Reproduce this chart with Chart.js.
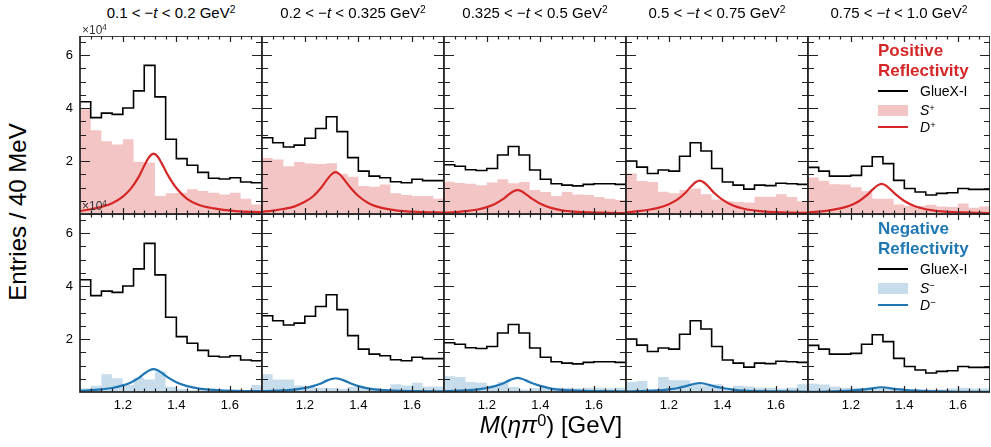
<!DOCTYPE html>
<html>
<head>
<meta charset="utf-8">
<script src="https://cdn.jsdelivr.net/npm/chart.js@4.4.0/dist/chart.umd.min.js"></script>
<style>
  body { margin: 0; background: #fff; }
  #fig { position: relative; width: 991px; height: 447px; overflow: hidden; font-family: "Liberation Sans", Arial, sans-serif; }
  #fig canvas { position: absolute; }
  .txt { position: absolute; white-space: nowrap; color: #000; line-height: 1; }
  .sup { position: relative; top: -0.45em; font-size: 0.68em; }
  .hline { position: absolute; width: 30px; }
</style>
</head>
<body>
<div id="fig"></div>
<script>
// bin edges of M(eta pi0) in GeV, 40 MeV bins
const binEdges = [1.04, 1.08, 1.12, 1.16, 1.20, 1.24, 1.28, 1.32, 1.36, 1.40, 1.44, 1.48, 1.52, 1.56, 1.60, 1.64, 1.68, 1.72];
const xTickLabels = ['1.2', '1.4', '1.6'];
const yTickLabels = ['2', '4', '6'];
const tLow = ['0.1', '0.2', '0.325', '0.5', '0.75'];
const tHigh = ['0.2', '0.325', '0.5', '0.75', '1.0'];

// GlueX-I data, entries x 10^4 per bin
const gluex1 = [4.24, 3.64, 3.81, 3.76, 4.00, 4.65, 5.61, 4.42, 2.82, 2.09, 1.84, 1.57, 1.35, 1.32, 1.37, 1.21, 1.18];
const gluex2 = [2.88, 2.69, 2.53, 2.60, 2.86, 3.23, 3.67, 3.11, 2.13, 1.62, 1.43, 1.37, 1.22, 1.18, 1.31, 1.26, 1.26];
const gluex3 = [1.86, 1.80, 1.67, 1.64, 1.72, 2.23, 2.55, 2.23, 1.66, 1.31, 1.14, 1.09, 1.06, 1.12, 1.14, 1.14, 1.12];
const gluex4 = [2.00, 1.77, 1.53, 1.66, 1.62, 2.18, 2.69, 2.38, 1.72, 1.21, 1.09, 0.94, 1.09, 1.07, 1.16, 1.14, 1.12];
const gluex5 = [1.76, 1.62, 1.43, 1.43, 1.46, 1.80, 2.16, 1.90, 1.27, 0.96, 0.83, 0.72, 0.78, 0.80, 0.96, 0.93, 0.93];

// S-wave, positive reflectivity
const sPlus1 = [3.95, 3.16, 2.75, 2.62, 2.82, 1.97, 1.94, 0.68, 0.78, 0.80, 0.93, 0.87, 0.80, 0.74, 0.80, 0.58, 0.36];
const sPlus2 = [2.11, 2.06, 1.80, 1.96, 1.91, 1.89, 1.92, 1.52, 1.41, 1.06, 1.03, 1.11, 0.78, 0.72, 0.68, 0.68, 0.58];
const sPlus3 = [1.22, 1.17, 1.14, 1.09, 1.19, 1.31, 1.16, 1.21, 0.91, 0.83, 0.68, 0.83, 0.74, 0.72, 0.64, 0.58, 0.53];
const sPlus4 = [1.53, 1.25, 1.21, 0.84, 0.78, 0.91, 0.96, 0.75, 0.55, 0.48, 0.45, 0.43, 0.65, 0.65, 0.75, 0.64, 0.48];
const sPlus5 = [1.38, 1.26, 1.12, 1.11, 1.01, 0.86, 0.58, 0.58, 0.36, 0.30, 0.30, 0.35, 0.28, 0.26, 0.40, 0.24, 0.28];

// S-wave, negative reflectivity
const sMinus1 = [0.14, 0.24, 0.67, 0.52, 0.26, 0.54, 0.47, 0.77, 0.20, 0.11, 0.07, 0.07, 0.07, 0.07, 0.07, 0.07, 0.26];
const sMinus2 = [0.67, 0.47, 0.47, 0.25, 0.19, 0.16, 0.15, 0.12, 0.19, 0.16, 0.16, 0.11, 0.29, 0.25, 0.35, 0.21, 0.21];
const sMinus3 = [0.59, 0.57, 0.38, 0.35, 0.25, 0.38, 0.19, 0.09, 0.15, 0.19, 0.16, 0.16, 0.14, 0.16, 0.16, 0.14, 0.16];
const sMinus4 = [0.38, 0.42, 0.09, 0.57, 0.44, 0.44, 0.31, 0.25, 0.29, 0.13, 0.24, 0.21, 0.16, 0.16, 0.13, 0.16, 0.29];
const sMinus5 = [0.31, 0.28, 0.21, 0.16, 0.16, 0.16, 0.13, 0.15, 0.15, 0.09, 0.09, 0.09, 0.09, 0.13, 0.16, 0.13, 0.13];

// D-wave curves, sampled masses
const dMass = [1.04, 1.08, 1.12, 1.16, 1.20, 1.23, 1.26, 1.28, 1.30, 1.315, 1.33, 1.35, 1.37, 1.40, 1.44, 1.48, 1.54, 1.62, 1.72];
const dPlus1 = [0.11, 0.18, 0.27, 0.41, 0.66, 0.96, 1.41, 1.82, 2.17, 2.28, 2.17, 1.82, 1.44, 0.98, 0.57, 0.36, 0.21, 0.11, 0.07];
const dPlus2 = [0.08, 0.13, 0.19, 0.28, 0.46, 0.66, 0.98, 1.26, 1.50, 1.58, 1.50, 1.26, 1.00, 0.68, 0.40, 0.25, 0.14, 0.08, 0.05];
const dPlus3 = [0.05, 0.07, 0.11, 0.16, 0.26, 0.38, 0.56, 0.72, 0.86, 0.90, 0.86, 0.72, 0.57, 0.39, 0.23, 0.14, 0.08, 0.05, 0.03];
const dPlus4 = [0.06, 0.10, 0.15, 0.23, 0.37, 0.53, 0.78, 1.01, 1.20, 1.26, 1.20, 1.01, 0.79, 0.54, 0.32, 0.20, 0.11, 0.06, 0.04];
const dPlus5 = [0.06, 0.09, 0.14, 0.21, 0.33, 0.48, 0.71, 0.91, 1.08, 1.14, 1.08, 0.91, 0.72, 0.49, 0.29, 0.18, 0.10, 0.06, 0.03];
const dMinus1 = [0.04, 0.07, 0.10, 0.15, 0.25, 0.36, 0.53, 0.69, 0.82, 0.86, 0.82, 0.69, 0.54, 0.37, 0.22, 0.14, 0.08, 0.04, 0.03];
const dMinus2 = [0.03, 0.04, 0.06, 0.09, 0.15, 0.22, 0.32, 0.42, 0.49, 0.52, 0.49, 0.42, 0.33, 0.22, 0.13, 0.08, 0.05, 0.03, 0.02];
const dMinus3 = [0.03, 0.04, 0.06, 0.09, 0.15, 0.22, 0.32, 0.42, 0.50, 0.53, 0.50, 0.42, 0.33, 0.23, 0.13, 0.08, 0.05, 0.03, 0.02];
const dMinus4 = [0.02, 0.03, 0.04, 0.06, 0.10, 0.14, 0.21, 0.27, 0.32, 0.34, 0.32, 0.27, 0.21, 0.15, 0.09, 0.05, 0.03, 0.02, 0.01];
const dMinus5 = [0.01, 0.01, 0.02, 0.03, 0.05, 0.08, 0.11, 0.14, 0.17, 0.18, 0.17, 0.14, 0.11, 0.08, 0.05, 0.03, 0.02, 0.01, 0.01];

const gluexAll = [gluex1, gluex2, gluex3, gluex4, gluex5];
const sAll = [[sPlus1, sPlus2, sPlus3, sPlus4, sPlus5], [sMinus1, sMinus2, sMinus3, sMinus4, sMinus5]];
const dAll = [[dPlus1, dPlus2, dPlus3, dPlus4, dPlus5], [dMinus1, dMinus2, dMinus3, dMinus4, dMinus5]];

const RED = '#d62728', BLUE = '#1f77b4';
const lineCol = [RED, BLUE];
const fillCol = ['rgba(214,39,40,0.27)', 'rgba(31,119,180,0.25)'];
const FONT = '"Liberation Sans", Arial, sans-serif';

// panel geometry (px)
const x0 = 80, y0 = 36, pw = 182, ph = 178, padL = 40, padB = 30;
const fig = document.getElementById('fig');

// histogram -> stepped points at bin edges (last value repeated at right edge)
function steps(vals) {
  return binEdges.map((x, i) => ({ x: x, y: vals[Math.min(i, vals.length - 1)] }));
}

// inward ticks on all four sides plus the frame
const framePlugin = {
  id: 'frame',
  afterDatasetsDraw(chart) {
    const ctx = chart.ctx, a = chart.chartArea, xs = chart.scales.x, ys = chart.scales.y;
    ctx.save();
    ctx.strokeStyle = '#222';
    ctx.lineWidth = 1.2;
    ctx.beginPath();
    for (let v = 1.08; v < 1.70; v += 0.04) {
      const px = Math.round(xs.getPixelForValue(v)) + 0.5;
      const major = Math.abs(v * 5 - Math.round(v * 5)) < 1e-6;
      const len = major ? 6 : 3.5;
      ctx.moveTo(px, a.top); ctx.lineTo(px, a.top + len);
      ctx.moveTo(px, a.bottom); ctx.lineTo(px, a.bottom - len);
    }
    for (let v = 0.5; v < 6.7; v += 0.5) {
      const py = Math.round(ys.getPixelForValue(v)) + 0.5;
      const len = (v % 2 === 0) ? 10 : 6;
      ctx.moveTo(a.left, py); ctx.lineTo(a.left + len, py);
      ctx.moveTo(a.right, py); ctx.lineTo(a.right - len, py);
    }
    ctx.stroke();
    ctx.lineWidth = 1.7;
    ctx.strokeRect(a.left, a.top, a.right - a.left, a.bottom - a.top);
    ctx.restore();
  }
};

for (let r = 0; r < 2; r++) {
  for (let c = 0; c < 5; c++) {
    const cv = document.createElement('canvas');
    cv.width = pw + padL;
    cv.height = ph + padB;
    cv.style.left = (x0 + c * pw - padL) + 'px';
    cv.style.top = (y0 + r * ph) + 'px';
    fig.appendChild(cv);

    new Chart(cv, {
      type: 'line',
      data: {
        datasets: [
          { label: 'GlueX-I', data: steps(gluexAll[c]), stepped: 'before', borderColor: '#000', borderWidth: 1.6, pointRadius: 0, fill: false },
          { label: 'D', data: dMass.map((m, i) => ({ x: m, y: dAll[r][c][i] })), borderColor: lineCol[r], borderWidth: 2.2, pointRadius: 0, cubicInterpolationMode: 'monotone', fill: false },
          { label: 'S', data: steps(sAll[r][c]), stepped: 'before', borderColor: 'rgba(0,0,0,0)', borderWidth: 0, backgroundColor: fillCol[r], pointRadius: 0, fill: 'origin' }
        ]
      },
      options: {
        responsive: false,
        animation: false,
        devicePixelRatio: 1,
        layout: { padding: 0 },
        plugins: { legend: { display: false }, tooltip: { enabled: false } },
        scales: {
          x: {
            type: 'linear', min: 1.04, max: 1.72,
            grid: { display: false, drawTicks: false }, border: { display: false },
            ticks: {
              display: r === 1, stepSize: 0.2, includeBounds: false, autoSkip: false, maxRotation: 0,
              padding: 6, color: '#000', font: { family: FONT, size: 13 },
              callback: v => xTickLabels.includes(v.toFixed(1)) ? v.toFixed(1) : ''
            },
            afterFit: s => { s.height = padB; s.paddingLeft = 0; s.paddingRight = 0; }
          },
          y: {
            type: 'linear', min: 0, max: 6.72,
            grid: { display: false, drawTicks: false }, border: { display: false },
            ticks: {
              display: c === 0, stepSize: 2, includeBounds: false, autoSkip: false,
              padding: 7, color: '#000', font: { family: FONT, size: 13 },
              callback: v => yTickLabels.includes(String(v)) ? String(v) : ''
            },
            afterFit: s => { s.width = padL; s.paddingTop = 0; s.paddingBottom = 0; }
          }
        }
      },
      plugins: [framePlugin]
    });
  }
}

// text helpers
function addText(html, x, y, css, anchor) {
  const d = document.createElement('div');
  d.className = 'txt';
  d.innerHTML = html;
  d.style.left = x + 'px';
  d.style.top = y + 'px';
  d.style.transform = anchor || 'translate(-50%, -50%)';
  Object.assign(d.style, css || {});
  fig.appendChild(d);
  return d;
}
function addBox(x, y, w, h, color) {
  const d = document.createElement('div');
  d.className = 'hline';
  Object.assign(d.style, { left: x + 'px', top: y + 'px', width: w + 'px', height: h + 'px', background: color });
  fig.appendChild(d);
}

// column titles
for (let c = 0; c < 5; c++) {
  addText(tLow[c] + ' &lt; \u2212<i>t</i> &lt; ' + tHigh[c] + ' GeV<span class="sup">2</span>',
    x0 + c * pw + pw / 2, 13, { fontSize: '15px' });
}

// x10^4 offset labels
addText('\u00d710<span class="sup">4</span>', 82, 30, { fontSize: '12px', color: '#333' }, 'translate(0, -50%)');
addText('\u00d710<span class="sup">4</span>', 82, 206, { fontSize: '12px', color: '#333' }, 'translate(0, -50%)');

// axis titles
addText('Entries / 40 MeV', 18, 212, { fontSize: '24px' }, 'translate(-50%, -50%) rotate(-90deg)');
addText('<i>M</i>(<i>\u03b7\u03c0</i><span class="sup">0</span>) [GeV]', 551, 425, { fontSize: '24px' });

// legends
const legTitle = [['Positive', 'Reflectivity'], ['Negative', 'Reflectivity']];
const legSign = ['+', '\u2212'];
const legTop = [50, 228];
for (let r = 0; r < 2; r++) {
  const t = legTop[r];
  addText(legTitle[r][0], 878, t, { fontSize: '17px', fontWeight: 'bold', color: lineCol[r] }, 'translate(0, -50%)');
  addText(legTitle[r][1], 878, t + 20, { fontSize: '17px', fontWeight: 'bold', color: lineCol[r] }, 'translate(0, -50%)');
  const e = t + 41;
  addBox(878, e - 0.75, 30, 1.5, '#000');
  addText('GlueX-I', 920, e, { fontSize: '14px' }, 'translate(0, -50%)');
  addBox(878, e + 13.5, 30, 11, fillCol[r]);
  addText('<i>S</i><span class="sup">' + legSign[r] + '</span>', 920, e + 19, { fontSize: '14px' }, 'translate(0, -50%)');
  addBox(878, e + 35, 30, 2, lineCol[r]);
  addText('<i>D</i><span class="sup">' + legSign[r] + '</span>', 920, e + 36, { fontSize: '14px' }, 'translate(0, -50%)');
}
</script>
</body>
</html>
